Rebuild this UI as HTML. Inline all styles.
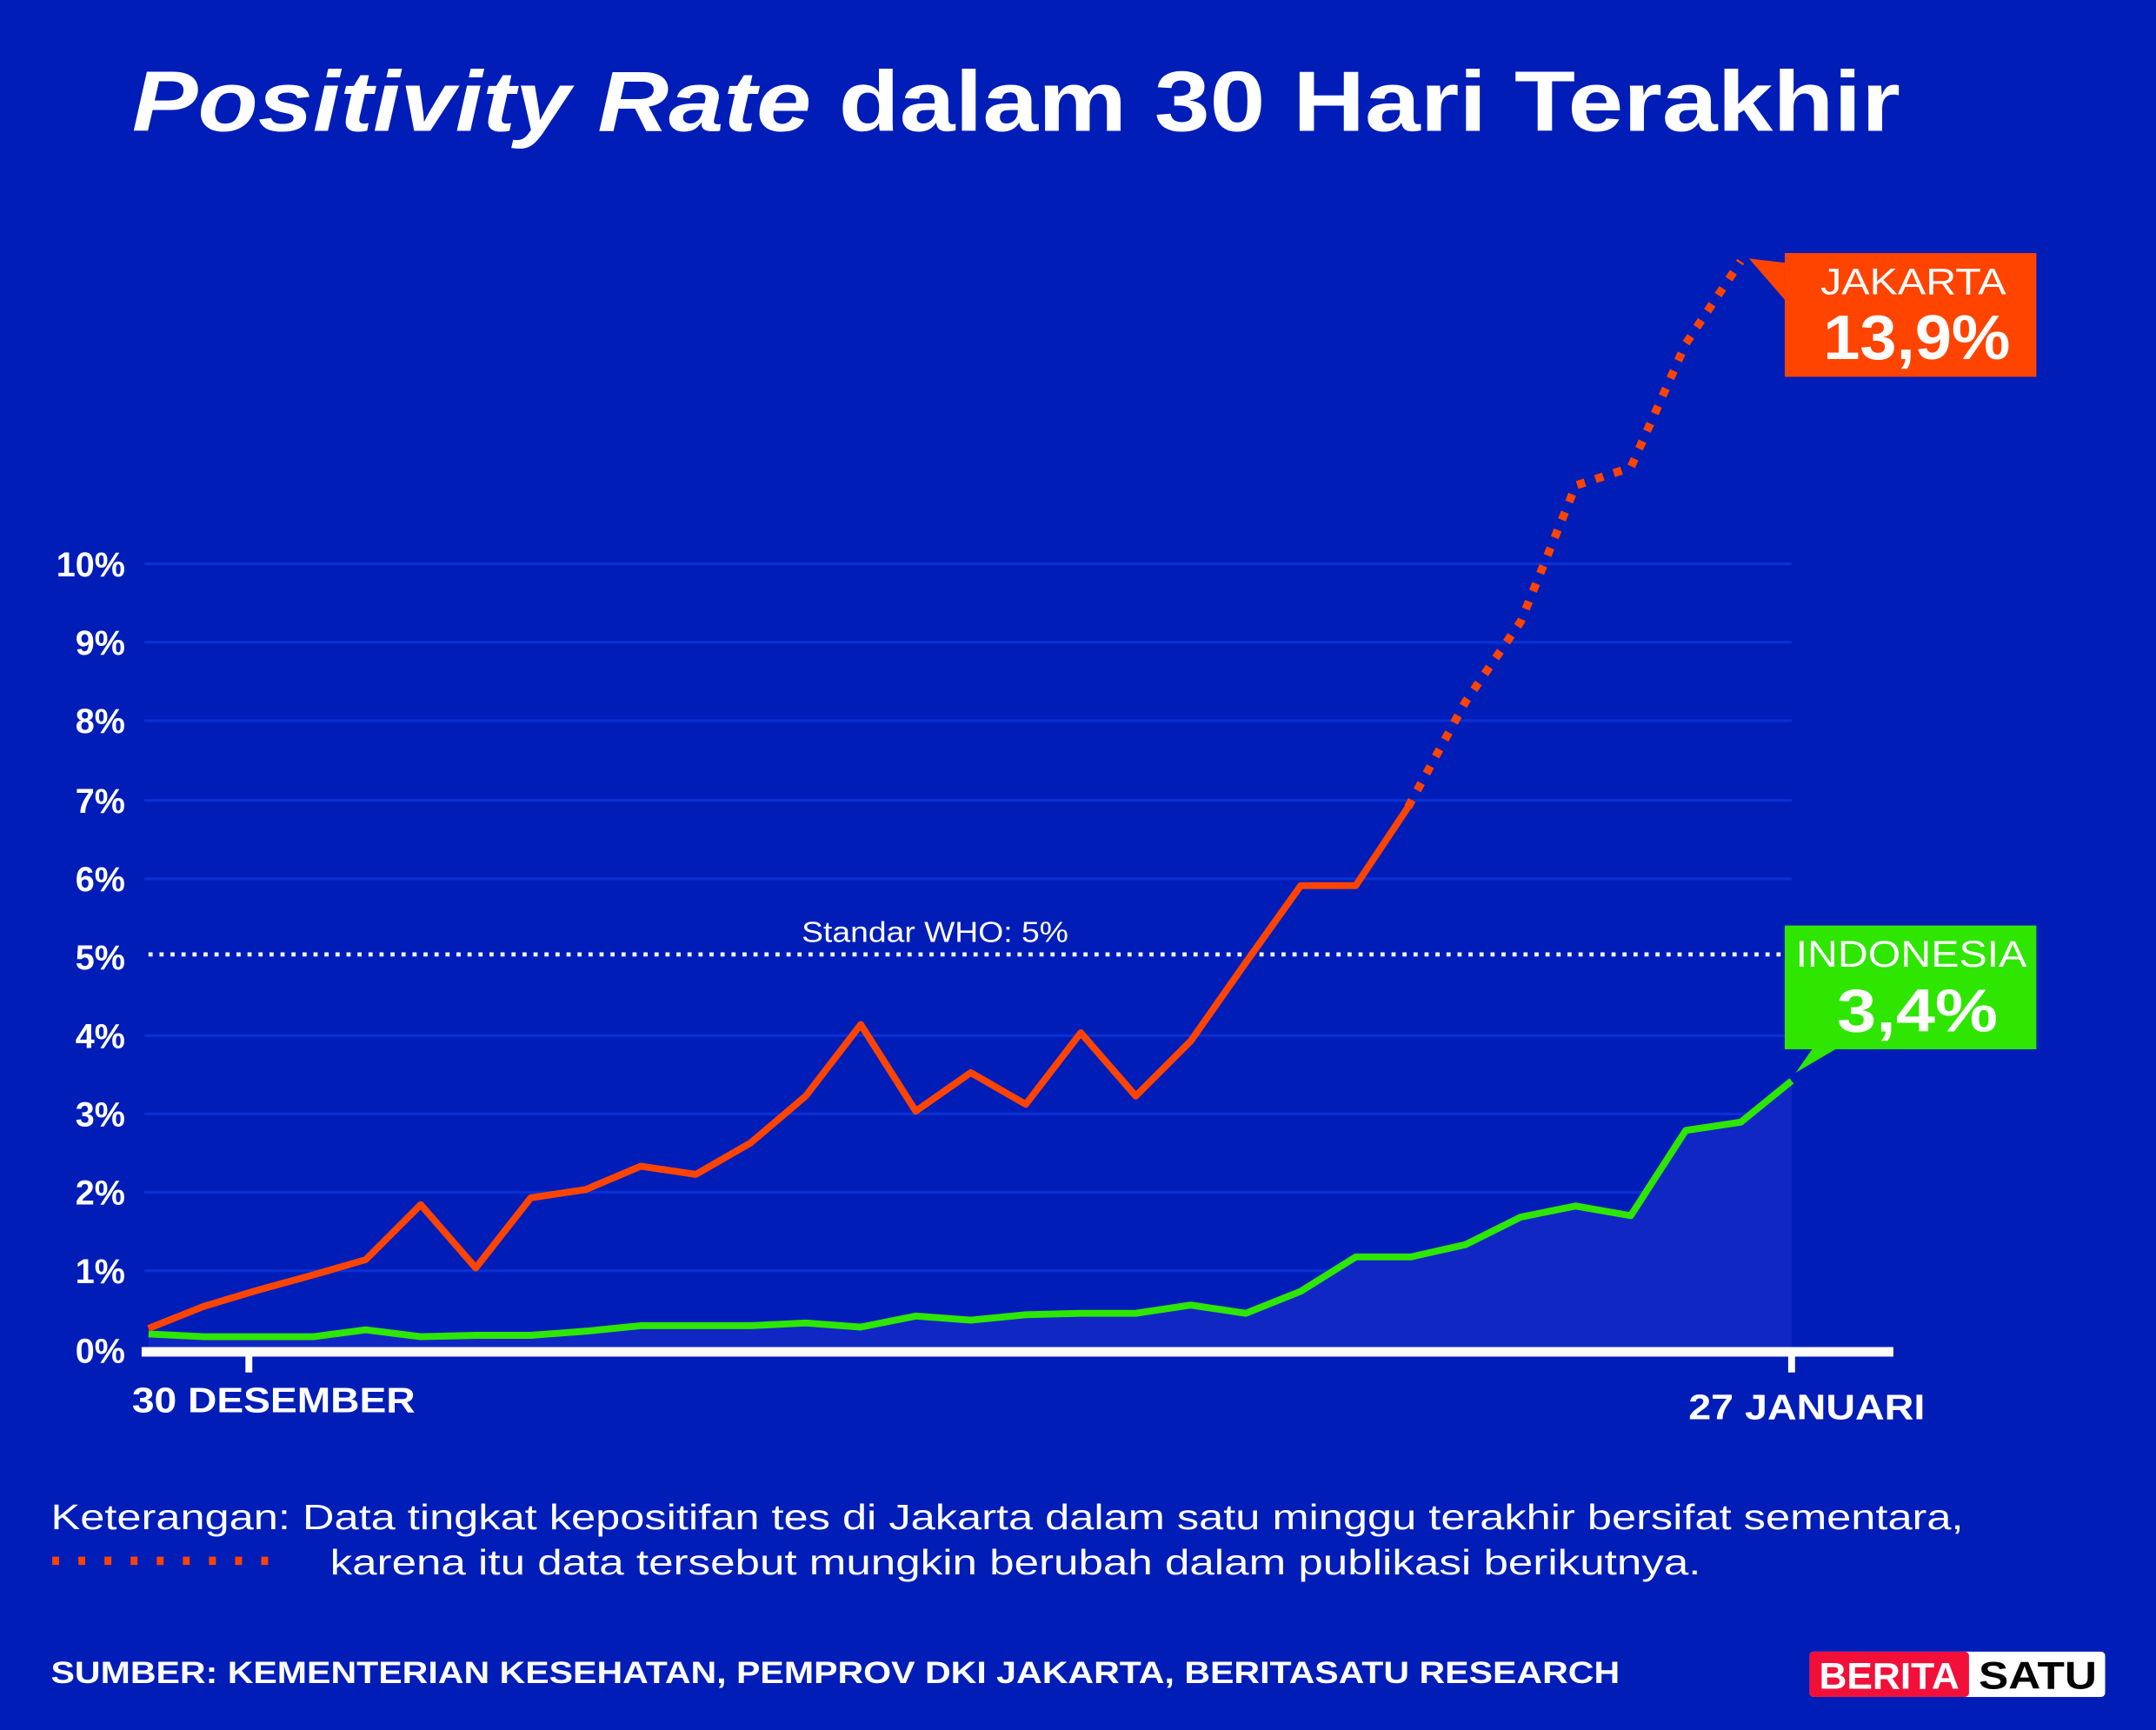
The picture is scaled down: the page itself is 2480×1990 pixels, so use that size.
<!DOCTYPE html>
<html><head><meta charset="utf-8"><style>
html,body{margin:0;padding:0;background:#001DB8;}
svg{display:block;}
text{font-family:"Liberation Sans",sans-serif;fill:#fff;}
</style></head><body>
<svg width="2480" height="1990" viewBox="0 0 1568 1258" preserveAspectRatio="none" xmlns="http://www.w3.org/2000/svg">
<rect width="1568" height="1258" fill="#001DB8"/>
<text x="96" y="95" font-size="62" font-weight="bold" font-style="italic" textLength="494" lengthAdjust="spacingAndGlyphs">Positivity Rate</text>
<text x="610" y="95" font-size="62" font-weight="bold" textLength="772" lengthAdjust="spacingAndGlyphs">dalam 30 Hari Terakhir</text>
<g stroke="#0B30D4" stroke-width="2">
<line x1="105" y1="410" x2="1303" y2="410"/><line x1="105" y1="467" x2="1303" y2="467"/>
<line x1="105" y1="524" x2="1303" y2="524"/><line x1="105" y1="582" x2="1303" y2="582"/>
<line x1="105" y1="639" x2="1303" y2="639"/><line x1="105" y1="753" x2="1303" y2="753"/>
<line x1="105" y1="810" x2="1303" y2="810"/><line x1="105" y1="867" x2="1303" y2="867"/>
<line x1="105" y1="924" x2="1303" y2="924"/>
</g>
<g font-size="25" font-weight="bold" text-anchor="end">
<text x="91" y="419">10%</text><text x="91" y="476">9%</text><text x="91" y="533">8%</text>
<text x="91" y="591">7%</text><text x="91" y="648">6%</text><text x="91" y="705">5%</text>
<text x="91" y="762">4%</text><text x="91" y="819">3%</text><text x="91" y="876">2%</text>
<text x="91" y="933">1%</text><text x="91" y="991">0%</text>
</g>
<polygon fill="#1027C4" points="108,970 148,972 188,972 228,972 266,967 306,972 346,971 386,971 426,968 466,964 506,964 546,964 586,962 626,965 666,957 706,960 746,956 786,955 826,955 866,949 906,955 946,939 986,914 1026,914 1066,905 1106,885 1146,877 1186,884 1226,822 1266,816 1303,786 1303,982 108,982"/>
<line x1="108" y1="694" x2="1303" y2="694" stroke="#fff" stroke-width="3" stroke-dasharray="3,5"/>
<text x="583" y="685" font-size="21" textLength="194" lengthAdjust="spacingAndGlyphs">Standar WHO: 5%</text>
<polyline fill="none" stroke="#2EE600" stroke-width="5" stroke-linejoin="round" points="108,970 148,972 188,972 228,972 266,967 306,972 346,971 386,971 426,968 466,964 506,964 546,964 586,962 626,965 666,957 706,960 746,956 786,955 826,955 866,949 906,955 946,939 986,914 1026,914 1066,905 1106,885 1146,877 1186,884 1226,822 1266,816 1303,786"/>
<polyline fill="none" stroke="#FF4400" stroke-width="5" stroke-linejoin="round" points="108,966 148,950 188,938 228,927 266,916 306,876 346,922 386,871 426,865 466,848 506,854 546,831 586,797 626,745 666,808 706,780 746,803 786,751 826,797 866,757 906,700 946,644 986,644 1024,587"/>
<polyline fill="none" stroke="#FF4400" stroke-width="6" stroke-dasharray="6,8" points="1024,587 1066,510 1106,452 1146,353 1186,340 1226,250 1266,190"/>
<line x1="103" y1="983" x2="1377" y2="983" stroke="#fff" stroke-width="7"/>
<line x1="181" y1="983" x2="181" y2="998" stroke="#fff" stroke-width="5"/>
<line x1="1303" y1="983" x2="1303" y2="998" stroke="#fff" stroke-width="5"/>
<text x="96" y="1027" font-size="26" font-weight="bold" textLength="206" lengthAdjust="spacingAndGlyphs">30 DESEMBER</text>
<text x="1228" y="1032" font-size="26" font-weight="bold" textLength="172" lengthAdjust="spacingAndGlyphs">27 JANUARI</text>
<polygon fill="#FF4400" points="1272,188 1298,191 1298,218"/>
<rect x="1298" y="184" width="183" height="90" fill="#FF4400"/>
<text x="1324" y="214" font-size="27" textLength="135" lengthAdjust="spacingAndGlyphs">JAKARTA</text>
<text x="1326" y="261" font-size="46" font-weight="bold" textLength="136" lengthAdjust="spacingAndGlyphs">13,9%</text>
<polygon fill="#2EE600" points="1306,780 1320,760 1340,760"/>
<rect x="1298" y="673" width="183" height="90" fill="#2EE600"/>
<text x="1306" y="703" font-size="27" textLength="168" lengthAdjust="spacingAndGlyphs">INDONESIA</text>
<text x="1336" y="750" font-size="44" font-weight="bold" textLength="117" lengthAdjust="spacingAndGlyphs">3,4%</text>
<text x="37" y="1112" font-size="26" textLength="1391" lengthAdjust="spacingAndGlyphs">Keterangan: Data tingkat kepositifan tes di Jakarta dalam satu minggu terakhir bersifat sementara,</text>
<line x1="38" y1="1135" x2="200" y2="1135" stroke="#FF4400" stroke-width="6" stroke-dasharray="5,14"/>
<text x="240" y="1145" font-size="26" textLength="997" lengthAdjust="spacingAndGlyphs">karena itu data tersebut mungkin berubah dalam publikasi berikutnya.</text>
<text x="37" y="1224" font-size="22" font-weight="bold" textLength="1141" lengthAdjust="spacingAndGlyphs">SUMBER: KEMENTERIAN KESEHATAN, PEMPROV DKI JAKARTA, BERITASATU RESEARCH</text>
<rect x="1316" y="1201" width="215" height="33" rx="3" fill="#fff"/>
<rect x="1316" y="1201" width="116" height="33" rx="3" fill="#F2103A"/>
<text x="1374" y="1228" font-size="27" font-weight="bold" text-anchor="middle" textLength="102" lengthAdjust="spacingAndGlyphs">BERITA</text>
<text x="1482" y="1228" font-size="28" font-weight="bold" text-anchor="middle" style="fill:#050505" textLength="86" lengthAdjust="spacingAndGlyphs">SATU</text>
</svg>
</body></html>
